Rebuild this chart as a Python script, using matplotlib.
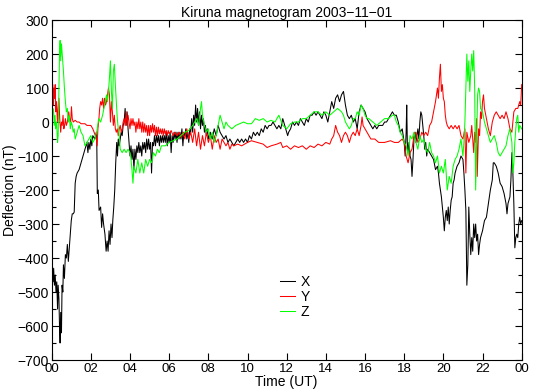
import matplotlib
matplotlib.use("Agg")
import matplotlib.pyplot as plt
from matplotlib.ticker import MultipleLocator, FixedLocator

plt.rcParams['font.family'] = ['Liberation Sans', 'DejaVu Sans']

# ---- X component (black): time [h], deflection [nT]
tx = [0, 0.03, 0.07, 0.1, 0.14, 0.18, 0.22, 0.26, 0.3, 0.33, 0.37, 0.4, 0.43, 0.46, 0.5, 0.53, 0.57, 0.6, 0.65,
      0.7, 0.75, 0.8, 0.85, 0.9, 0.95, 1.0, 1.05, 1.1, 1.15, 1.2, 1.25, 1.3, 1.4, 1.5, 1.6, 1.7, 1.8, 1.85, 1.9,
      1.95, 2.0, 2.05, 2.1, 2.2, 2.28, 2.3, 2.33, 2.38, 2.42, 2.5, 2.55, 2.6, 2.65, 2.72, 2.78, 2.83, 2.88, 2.93,
      2.98, 3.03, 3.08, 3.12, 3.17, 3.22, 3.27, 3.32, 3.36, 3.4, 3.45, 3.5, 3.55, 3.6, 3.65, 3.7, 3.75, 3.8, 3.85,
      3.9, 3.95, 4.0, 4.05, 4.1, 4.15, 4.2, 4.25, 4.3, 4.35, 4.4, 4.45, 4.5, 4.55, 4.6, 4.65, 4.7, 4.75, 4.8, 4.85,
      4.9, 4.95, 5.0, 5.05, 5.1, 5.15, 5.2, 5.25, 5.3, 5.35, 5.4, 5.45, 5.5, 5.55, 5.6, 5.65, 5.7, 5.75, 5.8, 5.85,
      5.9, 5.95, 6.0, 6.05, 6.1, 6.15, 6.2, 6.25, 6.3, 6.35, 6.4, 6.45, 6.5, 6.55, 6.6, 6.65, 6.7, 6.75, 6.8, 6.85,
      6.9, 6.95, 7.0, 7.05, 7.1, 7.15, 7.2, 7.25, 7.3, 7.35, 7.4, 7.45, 7.5, 7.55, 7.6, 7.65, 7.7, 7.75, 7.8, 7.85,
      7.9, 7.95, 8.0, 8.1, 8.2, 8.3, 8.4, 8.5, 8.6, 8.7, 8.8, 8.9, 9.0, 9.1, 9.2, 9.3, 9.4, 9.5, 9.6, 9.7, 9.8, 9.9,
      10.0, 10.1, 10.2, 10.3, 10.4, 10.5, 10.6, 10.7, 10.8, 10.9, 11.0, 11.1, 11.2, 11.3, 11.4, 11.5, 11.6, 11.7,
      11.8, 11.9, 12.0, 12.05, 12.1, 12.2, 12.3, 12.4, 12.5, 12.6, 12.7, 12.8, 12.9, 13.0, 13.1, 13.2, 13.3, 13.4,
      13.5, 13.6, 13.7, 13.8, 13.9, 14.0, 14.1, 14.2, 14.3, 14.4, 14.5, 14.6, 14.7, 14.8, 14.9, 15.0, 15.1, 15.2,
      15.3, 15.4, 15.5, 15.6, 15.7, 15.8, 15.9, 16.0, 16.1, 16.2, 16.3, 16.4, 16.5, 16.6, 16.7, 16.8, 16.9, 17.0,
      17.1, 17.2, 17.3, 17.4, 17.5, 17.6, 17.7, 17.8, 17.9, 18.0, 18.05, 18.1, 18.13, 18.16, 18.2, 18.25, 18.3,
      18.35, 18.4, 18.45, 18.5, 18.55, 18.6, 18.65, 18.7, 18.75, 18.8, 18.85, 18.9, 18.95, 19.0, 19.05, 19.1,
      19.15, 19.2, 19.3, 19.4, 19.5, 19.6, 19.7, 19.75, 19.8, 19.85, 19.9, 19.95, 20.0, 20.05, 20.1, 20.15, 20.2,
      20.25, 20.3, 20.35, 20.4, 20.45, 20.5, 20.55, 20.6, 20.7, 20.8, 20.9, 21.0, 21.05, 21.1, 21.15, 21.2, 21.25,
      21.3, 21.35, 21.4, 21.45, 21.5, 21.55, 21.6, 21.65, 21.7, 21.75, 21.8, 21.85, 21.9, 22.0, 22.1, 22.2, 22.3,
      22.4, 22.5, 22.55, 22.6, 22.7, 22.8, 22.9, 23.0, 23.1, 23.2, 23.25, 23.3, 23.4, 23.45, 23.5, 23.55, 23.6,
      23.65, 23.7, 23.75, 23.8, 23.85, 23.9, 23.95, 24.0]
xv = [-480, -440, -470, -430, -480, -450, -500, -470, -550, -480, -520, -600, -650, -560, -620, -480, -500, -420, -460,
      -390, -400, -360, -410, -370, -330, -290, -270, -270, -265, -180, -160, -150, -140, -120, -100, -80, -60, -90, -60,
      -80, -50, -70, -40, -50, -30, -40, -210, -200, -260, -250, -310, -270, -300, -330, -380, -350, -380, -320,
      -360, -300, -340, -290, -250, -200, -120, -60, -100, -50, -70, -50, -30, -40, -10, 0, 40, -10, 30,
      -20, -60, -100, -70, -110, -80, -140, -80, -110, -70, -90, -60, -90, -70, -100, -60, -80, -60, -90, -50,
      -80, -50, -80, -60, -150, -60, -70, -40, -70, -40, -60, -40, -70, -40, -60, -40, -60, -40, -60, -30,
      -70, -40, -60, -30, -90, -40, -60, -30, -50, -30, -60, -30, -50, -30, -50, -20, -70, -30, -40, -20,
      -50, -30, -60, -20, -30, 10, -30, 20, -10, 50, 0, 40, -10, 30, -20, 20, -10, 10, -30, -10,
      -40, -20, -50, -30, -50, -20, -40, -10, -30, -40, -50, -40, -60, -50, -60, -70, -60, -50, -60, -50, -60, -50,
      -60, -40, -50, -30, -40, -30, -40, -20, -30, -10, -20, -10, -10, 0, -10, -20, -10, -20,
      10, -10, -30, -40, -30, -20, 0, -10, 0, -10, 10, 0, -10, 10, 0, 20, 20, 30,
      20, 30, 20, 10, 30, 20, 0, 30, 60, 40, 70, 80, 60, 80, 90, 50, 20, 10,
      20, 0, 10, -20, 30, 50, 40, 30, 10, 0, -10, -20, -10, -20, -10, -10, -10, 0,
      0, 10, 20, 30, 20, 20, 0, -30, -20, -60, -100, -30, 50, -60, -90, -60, -100,
      -110, -160, -110, -50, -30, -60, -40, -20, -50, 0, 30, 20, -10, -40, -80, -60,
      -100, -80, -90, -100, -110, -140, -130, -150, -180, -200, -220, -250, -280, -320, -280, -260, -290,
      -250, -300, -260, -230, -220, -180, -170, -150, -130, -120, -100, -110, -150, -200, -260, -480, -420,
      -250, -330, -390, -340, -380, -300, -340, -300, -350, -330, -390, -360, -340, -320, -290, -280, -240,
      -200, -170, -120, -120, -130, -150, -180, -190, -210, -240, -270, -240, -220, -170, -90, -150, -240,
      -370, -340, -330, -340, -300, -280, -300, -290]

# ---- Y component (red)
ty = [0, 0.03, 0.06, 0.09, 0.12, 0.15, 0.18, 0.21, 0.25, 0.29, 0.33, 0.37, 0.41, 0.46, 0.5, 0.54, 0.58, 0.62, 0.66,
      0.7, 0.75, 0.8, 0.87, 0.92, 0.97, 1.01, 1.05, 1.1, 1.2, 1.3, 1.4, 1.5, 1.6, 1.7, 1.8, 1.9, 2.0, 2.1, 2.2, 2.28,
      2.32, 2.36, 2.4, 2.45, 2.5, 2.55, 2.6, 2.65, 2.7, 2.75, 2.8, 2.85, 2.9, 2.95, 3.0, 3.05, 3.1, 3.15, 3.2, 3.25,
      3.3, 3.35, 3.4, 3.45, 3.5, 3.55, 3.6, 3.65, 3.7, 3.75, 3.8, 3.85, 3.9, 3.95, 4.0, 4.05, 4.1, 4.15, 4.2, 4.25,
      4.3, 4.35, 4.4, 4.45, 4.5, 4.55, 4.6, 4.65, 4.7, 4.75, 4.8, 4.85, 4.9, 4.95, 5.0, 5.05, 5.1, 5.15, 5.2, 5.25,
      5.3, 5.35, 5.4, 5.45, 5.5, 5.55, 5.6, 5.65, 5.7, 5.75, 5.8, 5.85, 5.9, 5.95, 6.0, 6.1, 6.2, 6.3, 6.4, 6.5,
      6.6, 6.7, 6.8, 6.9, 7.0, 7.1, 7.2, 7.3, 7.4, 7.5, 7.6, 7.7, 7.8, 7.9, 8.0, 8.1, 8.2, 8.3, 8.4, 8.5, 8.6, 8.7,
      8.8, 8.9, 9.0, 9.1, 9.2, 9.3, 9.5, 9.7, 10.0, 10.2, 10.5, 10.8, 11.0, 11.2, 11.5, 11.7, 11.8, 12.0, 12.2,
      12.4, 12.6, 12.8, 13.0, 13.2, 13.4, 13.6, 13.8, 14.0, 14.2, 14.3, 14.4, 14.5, 14.6, 14.7, 14.8, 14.9, 15.0,
      15.1, 15.2, 15.3, 15.4, 15.5, 15.6, 15.7, 15.8, 15.85, 15.9, 16.0, 16.1, 16.2, 16.3, 16.5, 16.7, 17.0, 17.3,
      17.5, 17.7, 17.9, 18.0, 18.1, 18.2, 18.3, 18.4, 18.5, 18.6, 18.7, 18.8, 18.9, 19.0, 19.1, 19.2, 19.3, 19.4,
      19.5, 19.6, 19.7, 19.75, 19.8, 19.85, 19.9, 19.95, 20.0, 20.05, 20.1, 20.15, 20.2, 20.3, 20.4, 20.5, 20.6,
      20.7, 20.8, 20.9, 21.0, 21.1, 21.15, 21.2, 21.3, 21.4, 21.45, 21.5, 21.55, 21.6, 21.65, 21.7, 21.73, 21.8,
      21.85, 21.9, 21.95, 22.0, 22.05, 22.1, 22.2, 22.3, 22.4, 22.5, 22.6, 22.7, 22.8, 22.9, 23.0, 23.1, 23.2,
      23.3, 23.4, 23.5, 23.55, 23.6, 23.7, 23.8, 23.9, 23.95, 24.0]
yv = [120, 60, 110, 50, 100, 70, 110, 30, 60, 0, 40, 70, 10, -30, 0, -10, 20, -20, -10,
      10, -10, 0, 30, 10, 0, 45, 10, 0, 5, 0, 0, -5, -5, -5, -10, -10, -10, -20, -35, -50,
      -70, -20, 0, 40, 60, 50, 70, 40, 70, 50, 60, 80, 100, 80, 0, 60, 30, -10, 20, -20,
      -30, -20, -40, -20, -10, -30, -20, 0, 10, -10, 30, -10, 20, 0, -20, 10, -10, 10, -10, 0,
      -30, 0, -20, 10, -20, 0, -30, 0, -30, -5, -30, -10, -40, -10, -40, -10, -30, -5, -30, -10,
      -40, -15, -40, -15, -35, -20, -35, -20, -40, -20, -35, -25, -40, -25, -35, -25, -40, -30, -40, -30,
      -45, -30, -50, -20, -50, -30, -60, -20, -70, -30, -80, -40, -70, -30, -60, -40, -80, -40, -60, -50, -80, -50,
      -60, -70, -60, -80, -65, -70, -65, -70, -60, -55, -60, -65, -75, -70, -65, -60, -75, -70, -80,
      -70, -75, -70, -80, -70, -75, -65, -70, -60, -65, -50, -40, -10, -30, -40, -60, -40, -30,
      -40, -60, -40, -30, -40, -20, -40, -10, 15, -10, -20, -30, -40, -50, -50, -60, -60, -55,
      -60, -60, -50, -60, -100, -120, -90, -80, -40, -30, -60, -50, -30, -40, -30, -40, -10, 0,
      30, 60, 100, 70, 130, 170, 90, 110, 70, 60, 20, 0, -10, -20, -10, -20, -10,
      -20, -10, -40, -50, -20, -150, -30, -60, -40, -10, -50, -90, -30, -60, 10, -160, -20,
      -40, 30, 10, 60, 80, 40, 10, -20, -40, 0, 20, 30, 20, 10, 20, 10, 30,
      10, -20, -30, 0, 30, 40, 40, 60, 50, 110]

# ---- Z component (green)
tz = [0, 0.03, 0.06, 0.1, 0.13, 0.17, 0.2, 0.25, 0.3, 0.33, 0.37, 0.4, 0.43, 0.46, 0.5, 0.55, 0.6, 0.65, 0.7, 0.75,
      0.8, 0.85, 0.9, 0.95, 1.0, 1.05, 1.1, 1.15, 1.2, 1.3, 1.4, 1.5, 1.6, 1.7, 1.8, 1.9, 2.0, 2.1, 2.2, 2.3, 2.35,
      2.4, 2.5, 2.6, 2.7, 2.8, 2.85, 2.9, 2.95, 3.0, 3.05, 3.1, 3.15, 3.2, 3.25, 3.3, 3.35, 3.4, 3.45, 3.5, 3.6,
      3.7, 3.8, 3.9, 4.0, 4.05, 4.1, 4.15, 4.2, 4.3, 4.4, 4.5, 4.6, 4.7, 4.8, 4.9, 5.0, 5.1, 5.2, 5.3, 5.4, 5.5,
      5.6, 5.8, 6.0, 6.2, 6.4, 6.6, 6.8, 7.0, 7.2, 7.3, 7.4, 7.5, 7.6, 7.65, 7.7, 7.8, 7.9, 8.0, 8.1, 8.2, 8.3,
      8.4, 8.5, 8.6, 8.7, 8.8, 8.9, 9.0, 9.2, 9.4, 9.6, 9.8, 10.0, 10.2, 10.4, 10.6, 10.8, 11.0, 11.2, 11.4, 11.6,
      11.8, 12.0, 12.2, 12.4, 12.6, 12.8, 13.0, 13.2, 13.4, 13.6, 13.8, 14.0, 14.2, 14.4, 14.6, 14.8, 14.9, 15.0,
      15.1, 15.2, 15.3, 15.4, 15.5, 15.6, 15.7, 15.8, 15.9, 16.0, 16.1, 16.2, 16.4, 16.6, 16.8, 17.0, 17.2, 17.4,
      17.5, 17.6, 17.7, 17.8, 17.9, 18.0, 18.1, 18.2, 18.25, 18.3, 18.4, 18.5, 18.6, 18.7, 18.8, 18.9, 19.0, 19.1,
      19.2, 19.3, 19.4, 19.5, 19.6, 19.7, 19.8, 19.9, 20.0, 20.1, 20.2, 20.3, 20.4, 20.5, 20.6, 20.7, 20.8, 20.9,
      21.0, 21.05, 21.1, 21.15, 21.2, 21.25, 21.3, 21.35, 21.4, 21.45, 21.5, 21.55, 21.6, 21.65, 21.7, 21.75, 21.8,
      21.85, 21.9, 22.0, 22.1, 22.2, 22.3, 22.4, 22.5, 22.6, 22.7, 22.8, 22.9, 23.0, 23.1, 23.2, 23.3, 23.4, 23.5,
      23.55, 23.6, 23.65, 23.7, 23.75, 23.8, 23.85, 23.9, 24.0]
zv = [-30, 0, 40, 30, -10, 20, -20, 0, -60, -40, 100, 200, 240, 180, 230, 190, 150, 100, 60, 30,
      40, 0, 20, -20, 0, -10, -30, -20, -50, -30, -10, -30, -40, -70, -60, -50, -40, -60, -50, -30, -10,
      10, 0, 20, 50, 80, 60, 90, 130, 180, 90, 40, 150, 170, 110, 60, 10, -20, -40, -80, -90,
      -80, -90, -80, -90, -110, -140, -180, -130, -150, -110, -150, -120, -150, -110, -130, -110, -120, -90, -100, -80, -90,
      -70, -70, -60, -55, -50, -40, -30, -25, -10, 0, 10, -10, 40, 60, 20, -10, -30, -20, -50, -30, -60,
      -40, -10, 20, 0, -20, 0, -10, -20, -10, -5, 0, -5, -5, 10, 5, 10, 0, 5, 0, 20,
      -10, -20, -5, 0, 0, 10, 10, 20, 30, 30, 20, 30, 20, 30, 40, 30, 20, 0,
      -10, -20, -10, 10, 10, 30, 20, 50, 40, 20, 10, 10, 0, -10, 0, 10, 10, 20,
      20, 0, -10, -30, -40, -60, -70, -100, -80, -40, -50, -30, -60, -80, -40, -60, -50, -80,
      -90, -60, -90, -100, -120, -100, -150, -130, -150, -110, -200, -160, -180, -130, -110, -100, -80, -50,
      -100, -60, 0, 100, 200, 120, 180, 90, 150, 200, 150, 210, 100, -200, -50, 80, 100,
      90, 40, 30, 0, -20, -40, -60, -50, -40, -60, -90, -100, -90, -80, -70, -40, -20, -60,
      -150, -120, -60, -20, 10, 20, -30, -10, -20]

xtick_pos = [0, 2, 4, 6, 8, 10, 12, 14, 16, 18, 20, 22, 24]
xtick_lab = ['00', '02', '04', '06', '08', '10', '12', '14', '16', '18', '20', '22', '00']

fig = plt.figure(figsize=(5.35, 3.92), dpi=100)
ax = fig.add_axes([0.0966, 0.0816, 0.8785, 0.8673])
ax.plot(tx, xv, color='black', lw=0.75, label='X')
ax.plot(ty, yv, color='#ff0000', lw=0.75, label='Y')
ax.plot(tz, zv, color='#00ff00', lw=0.75, label='Z')

ax.set_xlim(0, 24)
ax.set_ylim(-700, 300)
ax.xaxis.set_major_locator(FixedLocator(xtick_pos))
ax.set_xticklabels(xtick_lab)
ax.yaxis.set_major_locator(MultipleLocator(100))
ax.yaxis.set_minor_locator(MultipleLocator(50))
ax.tick_params(which='both', direction='in', top=True, right=True, labelsize=10, width=0.8)
ax.tick_params(which='major', length=5)
ax.tick_params(which='minor', length=3)
ax.tick_params(axis='x', pad=2, labelsize=9.5)
ax.tick_params(axis='y', pad=2)
for s in ax.spines.values():
    s.set_linewidth(0.8)

ax.set_title('Kiruna magnetogram 2003\u221211\u221201', fontsize=10, pad=2)
ax.set_xlabel('Time (UT)', fontsize=10, labelpad=0)
ax.set_ylabel('Deflection (nT)', fontsize=10, labelpad=0)

ax.legend(loc='upper left', bbox_to_anchor=(0.47, 0.27), frameon=False, fontsize=10,
          handlelength=1.1, handletextpad=0.4, labelspacing=0.05, borderpad=0)

fig.savefig('out.png', dpi=100)
